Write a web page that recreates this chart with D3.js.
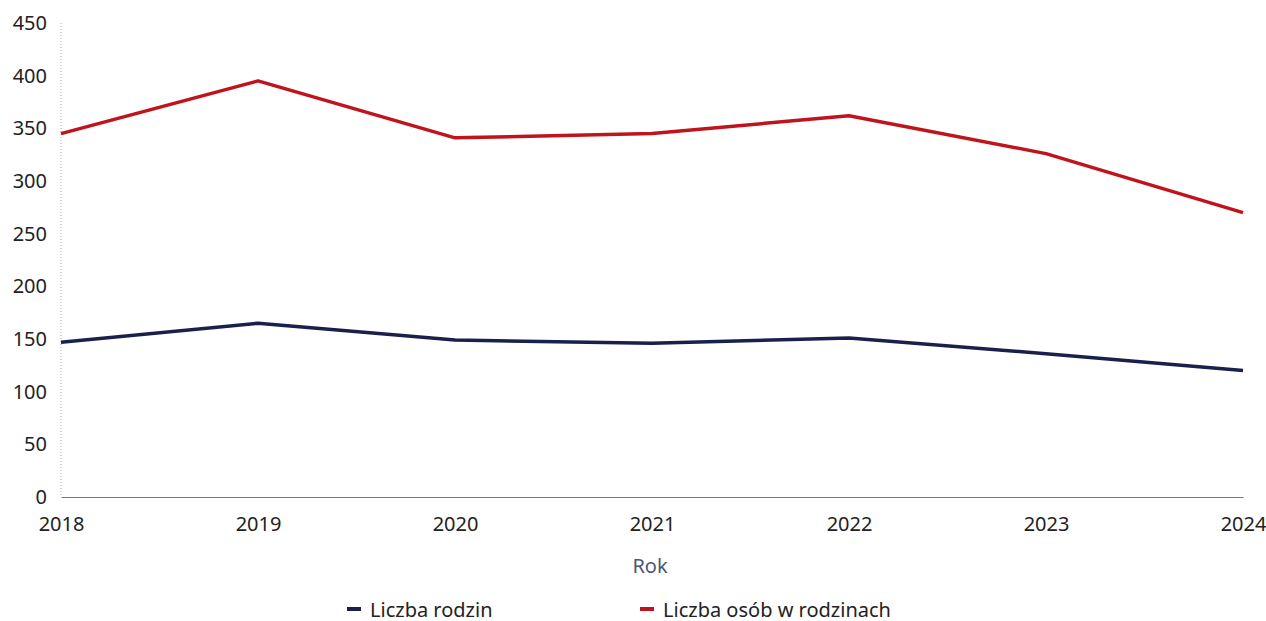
<!DOCTYPE html>
<html><head><meta charset="utf-8">
<script src="https://cdn.jsdelivr.net/npm/d3@7"></script>
<style>body{margin:0;background:#fff;font-family:"Noto Sans",sans-serif;}</style>
</head><body><svg id="c" width="1266" height="621"></svg>
<script>
const years = [2018, 2019, 2020, 2021, 2022, 2023, 2024];
const rodziny = [147, 165, 149, 146, 151, 136, 120];
const osoby = [345, 395, 341, 345, 362, 326, 270];
const yTicks = [0, 50, 100, 150, 200, 250, 300, 350, 400, 450];
const seriesNames = ["Liczba rodzin", "Liczba osób w rodzinach"];
const colors = ["#1b1f4b", "#c0141c"];

const svg = d3.select("#c");
const x = d3.scalePoint().domain(years).range([61, 1243]);
const y = d3.scaleLinear().domain([0, 450]).range([497, 23]);

svg.append("line").attr("x1", 61).attr("x2", 61).attr("y1", 23).attr("y2", 497)
  .attr("stroke", "#aaa").attr("stroke-width", 1).attr("stroke-dasharray", "1,2");

const yAx = svg.append("g").attr("transform", "translate(61,0)")
  .call(d3.axisLeft(y).tickValues(yTicks).tickSize(0).tickPadding(14));
yAx.select(".domain").remove();
yAx.selectAll("text").attr("font-size", 20).attr("fill", "#222").attr("font-family", "Noto Sans");

const xAx = svg.append("g").attr("transform", "translate(0,497)")
  .call(d3.axisBottom(x).tickSize(0).tickPadding(20).tickFormat(d3.format("d")));
xAx.select(".domain").attr("stroke", "#5a7ea8").attr("stroke-width", 1);
xAx.selectAll("text").attr("font-size", 20).attr("fill", "#222").attr("font-family", "Noto Sans");

svg.append("text").attr("x", 650).attr("y", 573).attr("text-anchor", "middle")
  .attr("font-size", 20).attr("fill", "#4a5878").text("Rok");

const line = d3.line().x((d, i) => x(years[i])).y(d => y(d));
[rodziny, osoby].forEach((s, k) => {
  svg.append("path").datum(s).attr("d", line).attr("fill", "none")
    .attr("stroke", colors[k]).attr("stroke-width", 3.5).attr("stroke-linejoin", "round");
});

const legX = [347, 640];
seriesNames.forEach((n, k) => {
  svg.append("line").attr("x1", legX[k]).attr("x2", legX[k] + 14).attr("y1", 609).attr("y2", 609)
    .attr("stroke", colors[k]).attr("stroke-width", 4);
  svg.append("text").attr("x", legX[k] + 23).attr("y", 609).attr("dominant-baseline", "central")
    .attr("font-size", 20).attr("fill", "#222").text(n);
});
</script></body></html>
